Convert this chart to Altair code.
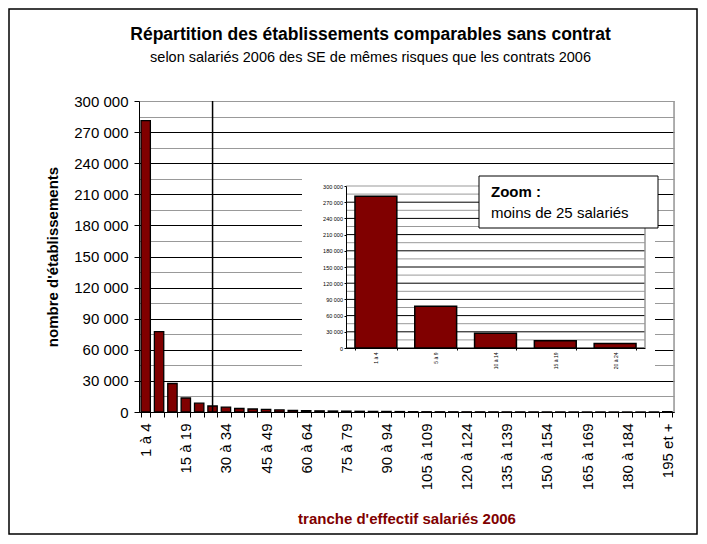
import json
import altair as alt
import pandas as pd

FONT = "Liberation Sans"

# ---- data ----
categories = ["1 à 4"] + [f"{lo} à {lo + 4}" for lo in range(5, 195, 5)] + ["195 et +"]
values = [281000, 77500, 27500, 13500, 8500, 5800, 4700, 3400, 2900, 2500,
          2000, 1600, 1400, 1100, 950, 850, 700, 600, 550, 450,
          300, 250, 220, 200, 180, 160, 150, 130, 120, 110,
          100, 90, 80, 75, 70, 60, 55, 50, 45, 350]
label_cats = categories[::3]
zoom_count = 5
zoom_line_cat = "25 à 29"
y_major = list(range(0, 300001, 30000))
y_all = list(range(0, 300001, 15000))

main_df = pd.DataFrame({"tranche": categories, "etab": values})
inset_df = main_df.iloc[:zoom_count]
one = pd.DataFrame({"k": [0]})

lab_fmt = "datum.value % 30000 === 0 ? replace(format(datum.value, ','), ',', ' ') : ''"
major_test_axis = "datum.value % 30000 === 0 && datum.value < 300000"

# ---- main chart ----
x_main = alt.X(
    "tranche:N", sort=categories,
    scale=alt.Scale(paddingInner=0.3, paddingOuter=0.15),
    axis=alt.Axis(
        title="tranche d'effectif salariés 2006", titleColor="#800000",
        titleFont=FONT, titleFontSize=15, titleFontWeight="bold",
        titleY=111, titleBaseline="alphabetic",
        labelAngle=-90, labelFont=FONT, labelFontSize=15, labelColor="black",
        labelExpr="indexof(" + json.dumps(label_cats, ensure_ascii=False) + ", datum.value) >= 0 ? datum.label : ''",
        labelOverlap=False, labelPadding=6,
        tickBand="extent", tickSize=5, tickColor="black",
        domainColor="black", grid=False,
    ),
)
y_main = alt.Y(
    "etab:Q",
    scale=alt.Scale(domain=[0, 300000], nice=False),
    axis=alt.Axis(
        values=y_all, labelExpr=lab_fmt, labelFont=FONT, labelFontSize=15,
        labelColor="black", labelPadding=6,
        tickSize=5,
        tickColor=alt.condition("datum.value % 30000 === 0", alt.value("black"), alt.value("transparent")),
        domainColor="black",
        grid=True, gridWidth=1, gridOpacity=1,
        gridColor=alt.condition(major_test_axis, alt.value("black"), alt.value("#999999")),
        title="nombre d'établissements", titleFont=FONT, titleFontSize=15,
        titleFontWeight="bold", titleColor="black",
        titleX=-82, titleBaseline="alphabetic",
    ),
)

frame = alt.Chart(one).mark_rect(fillOpacity=0, stroke="black", strokeWidth=1.5).encode(
    x=alt.value(-130), x2=alt.value(558), y=alt.value(-92), y2=alt.value(433)
)
bars = alt.Chart(main_df).mark_bar(color="#800000", stroke="black", strokeWidth=1.3).encode(
    x=x_main, y=y_main
)
vline = alt.Chart(pd.DataFrame({"tranche": [zoom_line_cat]})).mark_rule(
    color="black", strokeWidth=1.5
).encode(x=alt.X("tranche:N", sort=categories))
right_border = alt.Chart(one).mark_rule(color="#999999", strokeWidth=1.5).encode(
    x=alt.value(535), y=alt.value(0), y2=alt.value(311)
)
main = alt.layer(frame, bars, vline, right_border)

# ---- inset (zoom) chart ----
inset_y_scale = alt.Scale(domain=[0, 300000], range=[247, 85], nice=False)
inset_y = alt.Y(
    "etab:Q", scale=inset_y_scale,
    axis=alt.Axis(
        orient="left", offset=-207, values=y_major, labelExpr=lab_fmt,
        labelFont=FONT, labelFontSize=5.5, labelColor="black", labelPadding=1.5,
        tickSize=2, tickColor="black", domainColor="black", grid=False,
        title=None, zindex=1,
    ),
)
inset_x = alt.X(
    "tranche:N", sort=categories[:zoom_count],
    scale=alt.Scale(range=[207, 506], paddingInner=0.3, paddingOuter=0.15),
    axis=alt.Axis(
        orient="bottom", offset=-64, title=None, labelAngle=-90,
        labelFont=FONT, labelFontSize=5, labelColor="black", labelPadding=2,
        tickBand="extent", tickSize=2, tickColor="black", domainColor="black",
        grid=False, zindex=1,
    ),
)

inset_bg = alt.Chart(one).mark_rect(color="white").encode(
    x=alt.value(163), x2=alt.value(516), y=alt.value(69), y2=alt.value(272)
)
inset_grid = alt.Chart(pd.DataFrame({"etab": y_all})).mark_rule(strokeWidth=1).encode(
    y=inset_y, x=alt.value(207), x2=alt.value(506),
    color=alt.condition("datum.etab % 30000 === 0 && datum.etab < 300000",
                        alt.value("black"), alt.value("#999999")),
)
inset_right = alt.Chart(one).mark_rule(color="#999999", strokeWidth=1.5).encode(
    x=alt.value(506), y=alt.value(85), y2=alt.value(247)
)
inset_bars = alt.Chart(inset_df).mark_bar(color="#800000", stroke="black", strokeWidth=1.5).encode(
    x=inset_x, y=inset_y
)
legend_box = alt.Chart(one).mark_rect(color="white", stroke="black", strokeWidth=1).encode(
    x=alt.value(340), x2=alt.value(519), y=alt.value(75), y2=alt.value(127)
)
legend_t1 = alt.Chart(one).mark_text(
    text="Zoom :", font=FONT, fontSize=15, fontWeight="bold", color="black",
    align="left", baseline="alphabetic"
).encode(x=alt.value(352), y=alt.value(96))
legend_t2 = alt.Chart(one).mark_text(
    text="moins de 25 salariés", font=FONT, fontSize=15, color="black",
    align="left", baseline="alphabetic"
).encode(x=alt.value(352), y=alt.value(117))

inset = alt.layer(inset_bg, inset_grid, inset_right, inset_bars, legend_box, legend_t1, legend_t2)

chart = alt.layer(main, inset).resolve_scale(x="independent", y="independent").properties(
    width=535, height=311,
    title=alt.TitleParams(
        text="Répartition des établissements comparables sans contrat",
        subtitle="selon salariés 2006 des SE de mêmes risques que les contrats 2006",
        anchor="middle", dx=-36, font=FONT, fontSize=17.5, fontWeight="bold", color="black",
        subtitleFont=FONT, subtitleFontSize=14.5, subtitleColor="black",
        subtitlePadding=7, offset=-56,
    ),
    autosize=alt.AutoSizeParams(type="none"),
    padding={"left": 131, "top": 93, "right": 25, "bottom": 124},
).configure_view(stroke=None).configure(font=FONT)

chart.save("out.html", embed_options={"renderer": "svg", "actions": False})
